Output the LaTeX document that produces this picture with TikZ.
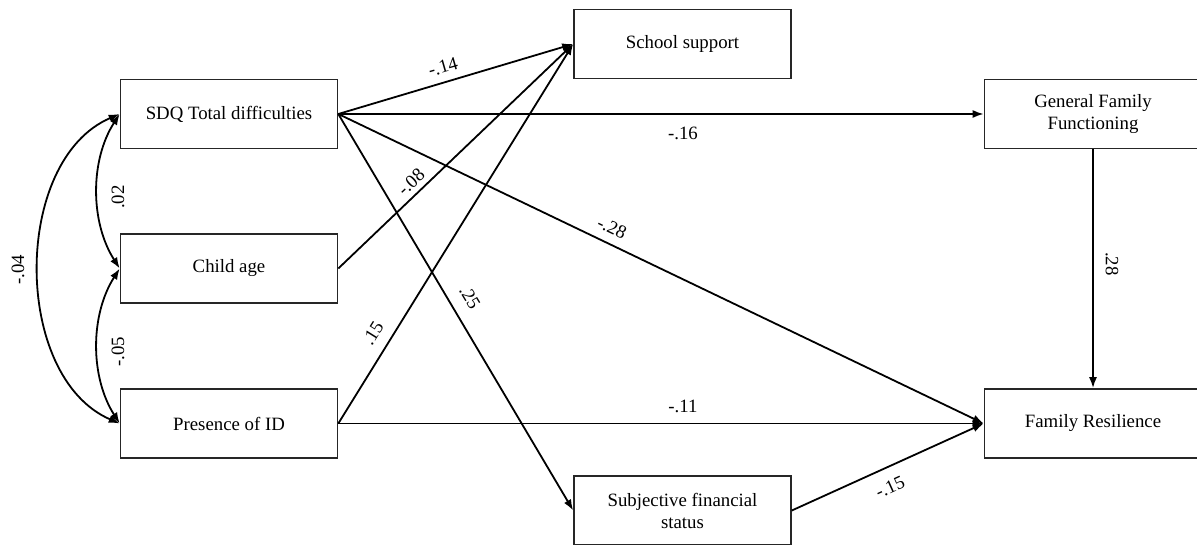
\documentclass[tikz,border=0pt]{standalone}
\usepackage{fontspec}
\setmainfont{Liberation Serif}
\usetikzlibrary{arrows.meta}
\begin{document}
\begin{tikzpicture}[x=1pt,y=-1pt,
  box/.style={draw=black!85, line width=1.6pt, minimum width=217pt, minimum height=69pt, inner sep=0pt, align=center, font=\fontsize{18.8}{22}\selectfont},
  path/.style={line width=1.8pt, -{Latex[length=11pt,width=8pt]}},
  cov/.style={line width=1.8pt, {Latex[length=11pt,width=8pt]}-{Latex[length=11pt,width=8pt]}},
  lab/.style={font=\fontsize{18.8}{22}\selectfont, inner sep=0pt}]
\useasboundingbox (0,0) rectangle (1197,545);
\node[box] (sdq) at (229,114) {SDQ Total difficulties};
\node[box] (age) at (229,268.5) {Child age};
\node[box] (id) at (229,423.5) {Presence of ID};
\node[box] (school) at (682.5,44) {School support};
\node[box] (sfs) at (682.5,510.5) {Subjective financial\\status};
\node[box] (gff) at (1093,114) {General Family\\Functioning};
\node[box] (fr) at (1093,423.5) {Family Resilience};
% paths
\draw[path] (sdq.east) -- (school.west);
\draw[path] (sdq.east) -- (gff.west);
\draw[path] (sdq.east) -- (fr.west);
\draw[path] (sdq.east) -- (sfs.west);
\draw[path] (age.east) -- (school.west);
\draw[path] (id.east) -- (school.west);
\draw[path] (id.east) -- (fr.west);
\draw[path] (sfs.east) -- (fr.west);
\draw[path] (gff.south) -- (fr.north);
% covariances
\draw[cov] (sdq.west) .. controls (90,160) and (90,222) .. (age.west);
\draw[cov] (age.west) .. controls (90,315) and (90,377) .. (id.west);
\draw[cov] (sdq.west) .. controls (12,160) and (12,377) .. (id.west);
% labels
\node[lab, rotate=16] (l1) at (443,67) {-.14};
\node[lab] (l2) at (683,133) {-.16};
\node[lab, rotate=43] (l3) at (411,182) {-.08};
\node[lab, rotate=-25.5] (l4) at (612,228) {-.28};
\node[lab, rotate=-59] (l5) at (470,297) {.25};
\node[lab, rotate=58] (l6) at (373,333) {.15};
\node[lab] (l7) at (683,406) {-.11};
\node[lab, rotate=24.4] (l8) at (890,487) {-.15};
\node[lab, rotate=-90] (l9) at (1112,264) {.28};
\node[lab, rotate=90] (l10) at (118,197) {.02};
\node[lab, rotate=90] (l11) at (118,352) {-.05};
\node[lab, rotate=90] (l12) at (18,270) {-.04};
\end{tikzpicture}
\end{document}
